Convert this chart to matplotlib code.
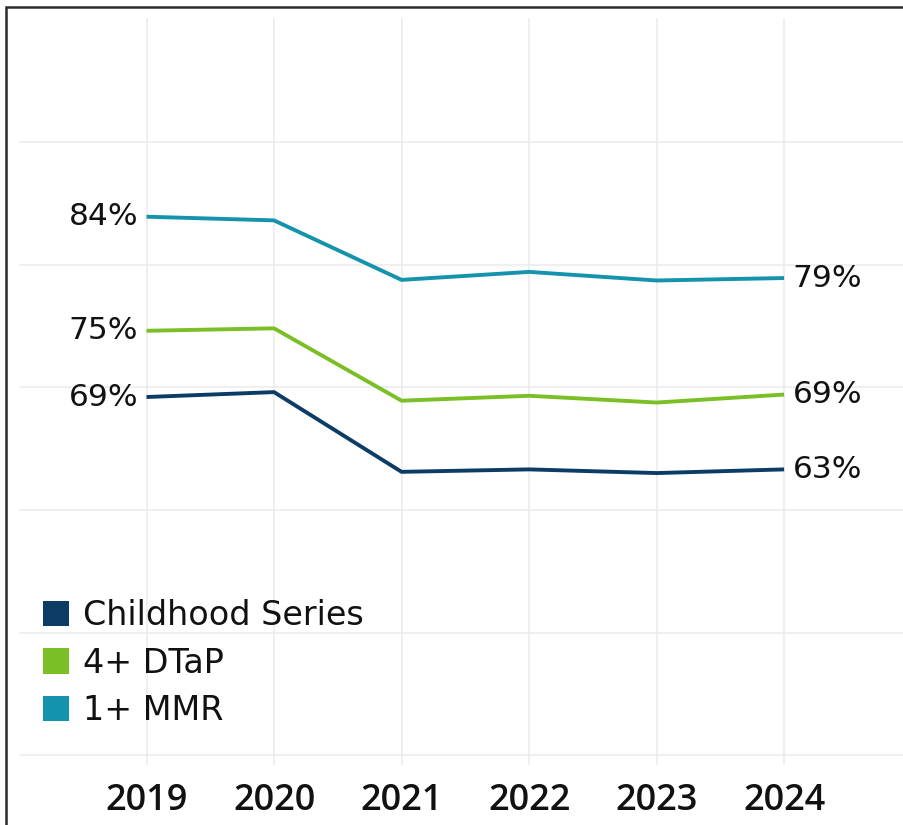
import matplotlib.pyplot as plt
from matplotlib.patches import Patch, Rectangle

years = [2019, 2020, 2021, 2022, 2023, 2024]
series_names = ["Childhood Series", "4+ DTaP", "1+ MMR"]
childhood = [69.2, 69.6, 63.1, 63.3, 63.0, 63.3]
dtap = [74.6, 74.8, 68.9, 69.3, 68.75, 69.4]
mmr = [83.9, 83.6, 78.75, 79.4, 78.7, 78.9]
colors = ["#0b3c66", "#7abf25", "#1493ad"]

W, H = 904, 825
fig = plt.figure(figsize=(W / 100, H / 100), dpi=100)
ax = fig.add_axes([19 / W, 60 / H, (W - 19) / W, (765 - 18) / H])

for vals, col in zip([childhood, dtap, mmr], colors):
    ax.plot(years, vals, color=col, linewidth=2.8, solid_capstyle="butt")
    ax.annotate(f"{round(vals[0])}%", (years[0], vals[0]), xytext=(-6, 0),
                textcoords="offset points", ha="right", va="center",
                fontsize=22.5, family="DejaVu Sans", color="#111111")
    ax.annotate(f"{round(vals[-1])}%", (years[-1], vals[-1]), xytext=(6, 0),
                textcoords="offset points", ha="left", va="center",
                fontsize=22.5, family="DejaVu Sans", color="#111111")

ax.set_xlim(2018.0, 2024.94)
ax.set_ylim(39.2, 100.1)
ax.set_xticks(years)
ax.set_xticklabels([str(y) for y in years], fontsize=26, family="Open Sans",
                   fontweight="semibold", color="#111111")
ax.set_yticks([40, 50, 60, 70, 80, 90])
ax.set_yticklabels([])
ax.tick_params(length=0, pad=13)
ax.grid(True, color="#ececec", linewidth=1.2)
ax.set_axisbelow(True)
for s in ax.spines.values():
    s.set_visible(False)

handles = [Patch(facecolor=c, edgecolor="none") for c in colors]
leg = ax.legend(handles, series_names, loc="lower left",
                bbox_to_anchor=(43 / W, 98 / H), bbox_transform=fig.transFigure,
                frameon=False, prop={"family": "DejaVu Sans", "size": 24},
                handlelength=0.79, handleheight=0.79, handletextpad=0.42,
                labelspacing=0.43, borderpad=0, borderaxespad=0)
for t in leg.get_texts():
    t.set_color("#111111")

# outer frame of the dashboard tile
fig.add_artist(Rectangle((6.5 / W, -0.1), 2, (H - 6.5) / H + 0.1, fill=False,
                         edgecolor="#2a2a2a", linewidth=1.8,
                         transform=fig.transFigure, clip_on=False))

fig.savefig("out.png", dpi=100)
